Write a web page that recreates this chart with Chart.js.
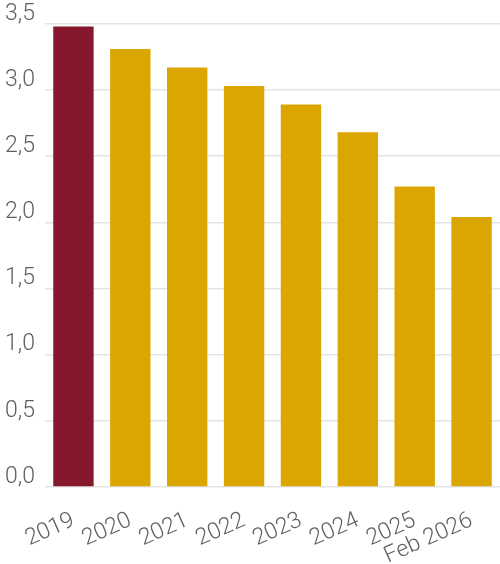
<!DOCTYPE html>
<html>
<head>
<meta charset="utf-8">
<script src="https://cdn.jsdelivr.net/npm/chart.js@4"></script>
<style>
  html, body { margin: 0; padding: 0; background: #fff; }
  #chart { display: block; }
</style>
</head>
<body>
<canvas id="chart" width="500" height="564"></canvas>
<script>
// Chart data
const years = ['2019', '2020', '2021', '2022', '2023', '2024', '2025', 'Feb 2026'];
const values = [3.48, 3.31, 3.17, 3.03, 2.89, 2.68, 2.27, 2.04];
const yTicks = [0, 0.5, 1, 1.5, 2, 2.5, 3, 3.5];
const highlightYear = '2019';

const baseColor = '#DCA600';
const highlightColor = '#86172D';
const tickFont = { family: 'Roboto', size: 23, weight: 300 };

const ctx = document.getElementById('chart').getContext('2d');
new Chart(ctx, {
    type: 'bar',
    data: {
        labels: years,
        datasets: [{
            data: values,
            backgroundColor: c => years[c.dataIndex] === highlightYear ? highlightColor : baseColor,
            barPercentage: 0.71,
            categoryPercentage: 1,
        }],
    },
    options: {
        responsive: false,
        animation: false,
        layout: { padding: { top: 15, right: 0, left: 0, bottom: 0 } },
        plugins: {
            legend: { display: false },
            tooltip: { enabled: false },
        },
        scales: {
            x: {
                grid: { display: false },
                border: { display: false },
                ticks: {
                    color: '#5f5f5f',
                    font: tickFont,
                    autoSkip: false,
                    maxRotation: 24,
                    minRotation: 24,
                    padding: 12,
                },
                afterFit: scale => { scale.height = 77; },
            },
            y: {
                min: 0,
                max: 3.5,
                afterBuildTicks: scale => { scale.ticks = yTicks.map(v => ({ value: v })); },
                grid: { color: '#e4e4e4', lineWidth: 1.5, drawTicks: false },
                border: { display: false },
                ticks: {
                    color: '#5f5f5f',
                    font: tickFont,
                    padding: 10,
                    labelOffset: -10,
                    callback: v => v.toFixed(1).replace('.', ','),
                },
                afterFit: scale => { scale.width = 45; },
            },
        },
    },
});
</script>
</body>
</html>
